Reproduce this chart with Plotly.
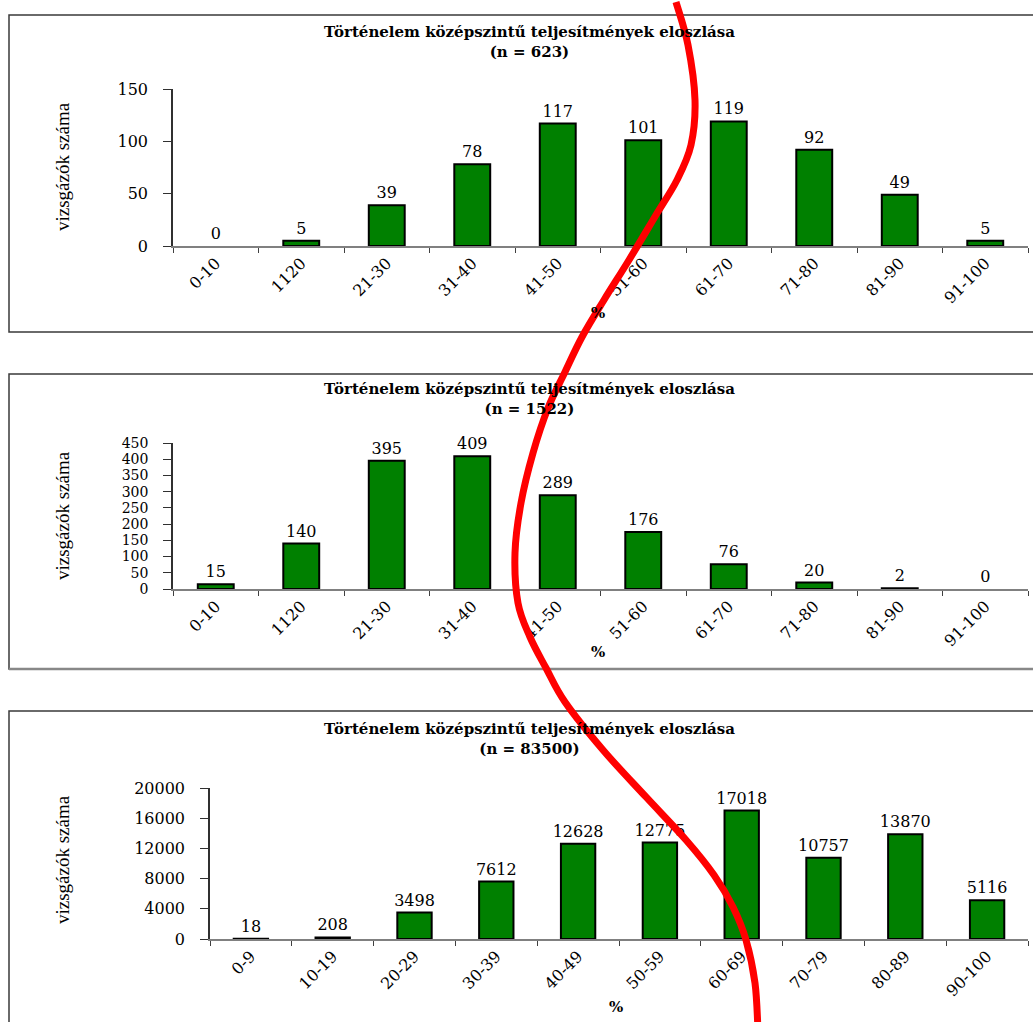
import plotly.graph_objects as go

W, H = 1033, 1022

# ---------------- data ----------------
cats_a = ["0-10", "1120", "21-30", "31-40", "41-50", "51-60", "61-70", "71-80", "81-90", "91-100"]
vals_1 = [0, 5, 39, 78, 117, 101, 119, 92, 49, 5]
vals_2 = [15, 140, 395, 409, 289, 176, 76, 20, 2, 0]
cats_b = ["0-9", "10-19", "20-29", "30-39", "40-49", "50-59", "60-69", "70-79", "80-89", "90-100"]
vals_3 = [18, 208, 3498, 7612, 12628, 12775, 17018, 10757, 13870, 5116]
n_labels = ["623", "1522", "83500"]
title_text = "Történelem középszintű teljesítmények eloszlása"
y_title = "vizsgázók száma"
x_title = "%"
y_max = [150, 450, 20000]
y_step = [50, 50, 4000]

# red free-hand curve drawn over the charts (pixel control points)
curve_pts = [(676, 2), (688, 45), (695, 100), (691, 145), (677, 180), (656, 215),
             (629, 260), (604, 300), (582, 337), (565, 372), (548, 408), (533, 453),
             (521, 503), (515, 553), (518, 603), (530, 637), (546, 668), (565, 702),
             (603, 750), (646, 797), (686, 840), (714, 875), (733, 907), (746, 940),
             (755, 983), (758, 1030)]

# ---------------- layout geometry (pixels) ----------------
panels = [
    dict(x0=173, x1=1028, ybot=246, ytop=89, box=(9, 15, 332), tc=42, yt=167,
         pct=313, yfs=16),
    dict(x0=173, x1=1028, ybot=589, ytop=443, box=(9, 374, 669), tc=399, yt=516,
         pct=652, yfs=14),
    dict(x0=210, x1=1028, ybot=939, ytop=788, box=(9, 711, 1040), tc=739, yt=860,
         pct=1007, yfs=16),
]


def px(x):
    return x / W


def py(y):
    return 1 - y / H


SERIF = "DejaVu Serif"
TIMES = "Liberation Serif"
GREEN = "#008000"

series = [(cats_a, vals_1), (cats_a, vals_2), (cats_b, vals_3)]

fig = go.Figure()
annotations = []
shapes = []
layout_axes = {}

for i, (p, (cats, vals)) in enumerate(zip(panels, series)):
    k = "" if i == 0 else str(i + 1)
    fig.add_trace(go.Bar(
        x=cats, y=vals,
        xaxis="x" + k, yaxis="y" + k,
        marker=dict(color=GREEN,
                    line=dict(color="#000000", width=[0 if v == 0 else 2 for v in vals])),
        text=[str(v) for v in vals], textposition="outside", constraintext="none",
        textfont=dict(family=SERIF, size=16, color="#000000"),
        cliponaxis=False, showlegend=False, hoverinfo="skip",
    ))
    layout_axes["xaxis" + k] = dict(
        domain=[px(p["x0"]), px(p["x1"])], anchor="y" + k,
        type="category", tickson="boundaries", ticks="outside", ticklen=5,
        tickcolor="#404040", showline=True, linecolor="#808080", linewidth=1.5,
        tickangle=-45, tickfont=dict(family=SERIF, size=16, color="#000000"),
        showgrid=False, zeroline=False, automargin=False, fixedrange=True,
    )
    layout_axes["yaxis" + k] = dict(
        domain=[py(p["ybot"]), py(p["ytop"])], anchor="x" + k,
        range=[0, y_max[i]], dtick=y_step[i], tick0=0, tickformat="d",
        ticks="outside", ticklen=8, tickcolor="#303030",
        showline=True, linecolor="#303030", linewidth=1.5,
        tickfont=dict(family=SERIF, size=p["yfs"], color="#000000"),
        ticklabelstandoff=12,
        showgrid=False, zeroline=False, automargin=False, fixedrange=True,
    )
    # two-line chart title
    annotations.append(dict(text="<b>" + title_text + "<br>(n = " + n_labels[i] + ")</b>",
                            x=px(529), y=py(p["tc"]),
                            xref="paper", yref="paper", showarrow=False,
                            xanchor="center", yanchor="middle", align="center",
                            font=dict(family=SERIF, size=15, color="#000000")))
    annotations.append(dict(text=y_title, x=px(62), y=py(p["yt"]),
                            xref="paper", yref="paper", showarrow=False, textangle=-90,
                            xanchor="center", yanchor="middle",
                            font=dict(family=TIMES, size=19, color="#000000")))
    annotations.append(dict(text="<b>" + x_title + "</b>", x=px((p["x0"] + p["x1"]) / 2 - 3),
                            y=py(p["pct"]), xref="paper", yref="paper", showarrow=False,
                            xanchor="center", yanchor="middle",
                            font=dict(family=SERIF, size=15, color="#000000")))
    bx, by0, by1 = p["box"]
    shapes.append(dict(type="rect", xref="paper", yref="paper",
                       x0=px(bx), x1=px(1050), y0=py(by1), y1=py(by0),
                       line=dict(color="#3a3a3a", width=1.5), layer="below"))

# bottom border of panel 2 appears as a heavier grey line
shapes.append(dict(type="line", xref="paper", yref="paper",
                   x0=px(9), x1=px(1050), y0=py(669), y1=py(669),
                   line=dict(color="#888888", width=2.5)))


def catmull_path(pts):
    pts = [(px(x), py(y)) for x, y in pts]
    d = "M %.5f,%.5f" % pts[0]
    n = len(pts)
    for j in range(n - 1):
        p0 = pts[j - 1] if j > 0 else pts[j]
        p1 = pts[j]
        p2 = pts[j + 1]
        p3 = pts[j + 2] if j + 2 < n else pts[j + 1]
        c1 = (p1[0] + (p2[0] - p0[0]) / 6, p1[1] + (p2[1] - p0[1]) / 6)
        c2 = (p2[0] - (p3[0] - p1[0]) / 6, p2[1] - (p3[1] - p1[1]) / 6)
        d += " C %.5f,%.5f %.5f,%.5f %.5f,%.5f" % (c1 + c2 + p2)
    return d


shapes.append(dict(type="path", xref="paper", yref="paper", path=catmull_path(curve_pts),
                   line=dict(color="#ff0000", width=7), layer="above"))

fig.update_layout(
    width=W, height=H, autosize=False,
    margin=dict(l=0, r=0, t=0, b=0),
    template="none",
    paper_bgcolor="white", plot_bgcolor="white",
    bargap=0.58,
    font=dict(family=SERIF, color="#000000"),
    annotations=annotations, shapes=shapes,
    showlegend=False,
    **layout_axes,
)

fig.write_html("out.html", config=dict(displayModeBar=False))
